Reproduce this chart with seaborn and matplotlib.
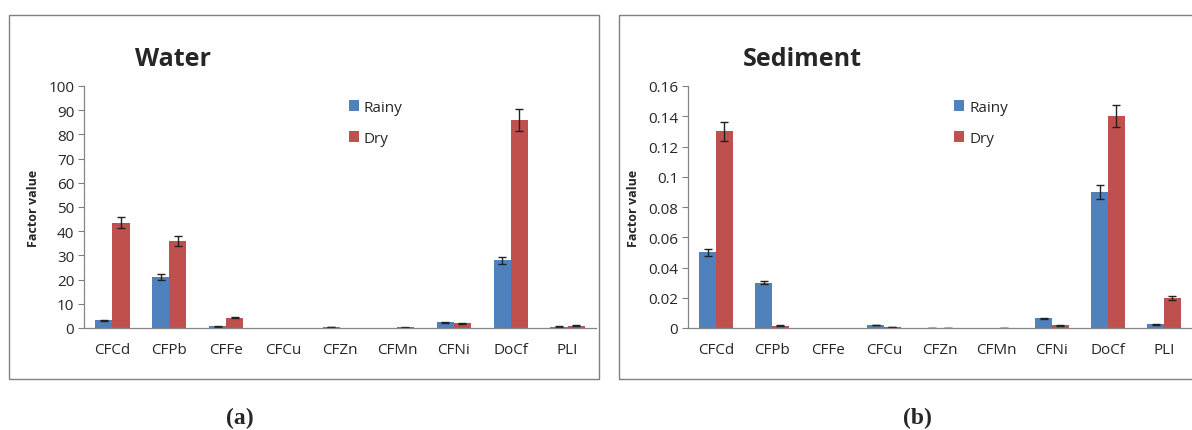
import numpy as np
import pandas as pd
import matplotlib
matplotlib.use("Agg")
import matplotlib.pyplot as plt
from matplotlib.patches import Rectangle
import seaborn as sns

categories = ["CFCd", "CFPb", "CFFe", "CFCu", "CFZn", "CFMn", "CFNi", "DoCf", "PLI"]
seasons = ["Rainy", "Dry"]

water_rainy = [3.2, 21.0, 0.7, 0.0, 0.4, 0.0, 2.3, 28.0, 0.6]
water_dry = [43.5, 36.0, 4.3, 0.0, 0.0, 0.3, 2.0, 86.0, 0.9]
water_rainy_err = [0.3, 1.3, 0.1, 0.0, 0.1, 0.0, 0.2, 1.5, 0.1]
water_dry_err = [2.2, 2.0, 0.3, 0.0, 0.0, 0.1, 0.2, 4.5, 0.2]

sed_rainy = [0.050, 0.030, 0.0, 0.002, 0.0003, 0.0, 0.0063, 0.090, 0.0025]
sed_dry = [0.130, 0.0015, 0.0, 0.0004, 0.0003, 0.0003, 0.0018, 0.140, 0.020]
sed_rainy_err = [0.0025, 0.0012, 0.0, 0.0003, 0.0, 0.0, 0.0003, 0.0045, 0.0002]
sed_dry_err = [0.0065, 0.0003, 0.0, 0.0, 0.0, 0.0, 0.0002, 0.0072, 0.0012]

water_ticks = [0, 10, 20, 30, 40, 50, 60, 70, 80, 90, 100]
water_ticklabels = ["0", "10", "20", "30", "40", "50", "60", "70", "80", "90", "100"]
sed_ticks = [0, 0.02, 0.04, 0.06, 0.08, 0.10, 0.12, 0.14, 0.16]
sed_ticklabels = ["0", "0.02", "0.04", "0.06", "0.08", "0.1", "0.12", "0.14", "0.16"]

colors = {"Rainy": "#4F81BD", "Dry": "#C0504D"}

sns.set_style("white")
plt.rcParams["font.family"] = ["Open Sans", "DejaVu Sans"]

W, H = 1192, 431
fig = plt.figure(figsize=(W / 100, H / 100), dpi=100)

def fx(px):
    return px / W

def fy(py):
    return 1 - py / H

# panel frames
fig.patches.append(Rectangle((fx(9), fy(380)), fx(590), (380 - 16) / H, transform=fig.transFigure,
                             fill=False, edgecolor="#808080", linewidth=1.0))
fig.patches.append(Rectangle((fx(619), fy(380)), fx(600), (380 - 16) / H, transform=fig.transFigure,
                             fill=False, edgecolor="#808080", linewidth=1.0))

def panel(rect, rainy, dry, rerr, derr, ticks, ticklabels, ymax, title, title_x, legend_x):
    ax = fig.add_axes(rect)
    df = pd.DataFrame({
        "Category": categories * 2,
        "Season": ["Rainy"] * len(categories) + ["Dry"] * len(categories),
        "Value": list(rainy) + list(dry),
    })
    sns.barplot(data=df, x="Category", y="Value", hue="Season", hue_order=seasons,
                order=categories, palette=colors, width=0.6, errorbar=None,
                saturation=1, ax=ax, edgecolor="none")
    errs = {"Rainy": rerr, "Dry": derr}
    vals = {"Rainy": rainy, "Dry": dry}
    for cont, s in zip(ax.containers, seasons):
        xs, ys, es = [], [], []
        for p, v, e in zip(cont.patches, vals[s], errs[s]):
            if v > 0:
                xs.append(p.get_x() + p.get_width() / 2)
                ys.append(v)
                es.append(e)
        ax.errorbar(xs, ys, yerr=es, fmt="none", ecolor="#222222",
                    elinewidth=1.0, capsize=3, capthick=1.0)
    ax.set_xlim(-0.5, len(categories) - 0.5)
    ax.set_ylim(0, ymax)
    ax.set_yticks(ticks)
    ax.set_yticklabels(ticklabels, fontsize=11)
    ax.tick_params(axis="x", labelsize=11, length=0, pad=10)
    ax.tick_params(axis="y", length=4, width=0.8, color="#808080", left=True, pad=3)
    ax.set_xlabel("")
    ax.set_ylabel("Factor value", fontsize=9, fontweight="bold", labelpad=6)
    for sp in ["top", "right"]:
        ax.spines[sp].set_visible(False)
    for sp in ["left", "bottom"]:
        ax.spines[sp].set_color("#868686")
        ax.spines[sp].set_linewidth(0.9)
    ax.legend(loc="upper left", bbox_to_anchor=(legend_x, 1.0), frameon=False,
              handlelength=0.7, handleheight=0.7, handletextpad=0.3,
              labelspacing=1.05, fontsize=11)
    fig.text(title_x, fy(60), title, fontsize=18, fontweight="bold", va="center", ha="left")
    return ax

panel([fx(84), fy(329), fx(512), (329 - 87) / H], water_rainy, water_dry,
      water_rainy_err, water_dry_err, water_ticks, water_ticklabels, 100,
      "Water", fx(135), 0.49)
panel([fx(688), fy(329), fx(504), (329 - 87) / H], sed_rainy, sed_dry,
      sed_rainy_err, sed_dry_err, sed_ticks, sed_ticklabels, 0.16,
      "Sediment", fx(743), 0.50)

fig.text(fx(240), fy(418), "(a)", fontsize=17, fontweight="bold", ha="center", va="center",
         family=["Liberation Serif", "DejaVu Serif"])
fig.text(fx(917), fy(418), "(b)", fontsize=17, fontweight="bold", ha="center", va="center",
         family=["Liberation Serif", "DejaVu Serif"])

fig.savefig("out.png", dpi=100)
